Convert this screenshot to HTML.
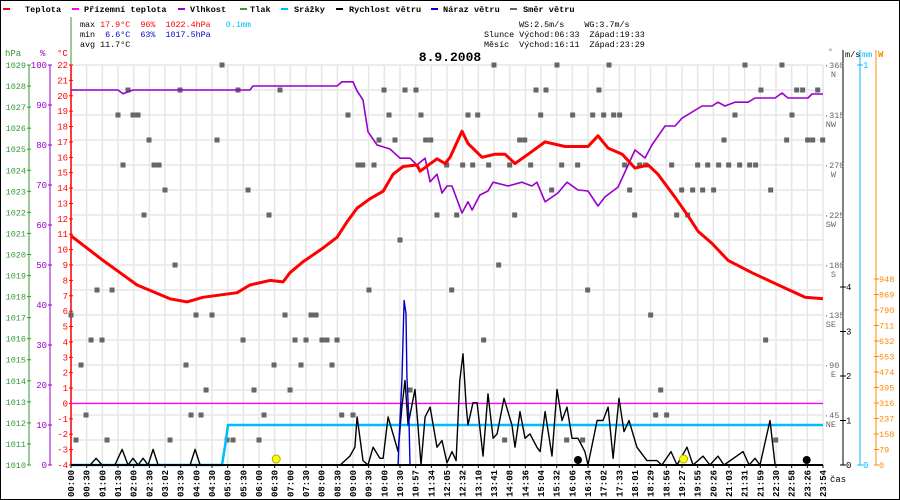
<!DOCTYPE html>
<html><head><meta charset="utf-8"><style>
html,body{margin:0;padding:0;background:#fff;}
svg{display:block;font-family:"Liberation Mono","DejaVu Sans Mono",monospace;}
text{white-space:pre;}
</style></head><body>
<svg id="chart" width="900" height="500" viewBox="0 0 900 500" xmlns="http://www.w3.org/2000/svg" xml:space="preserve">
<rect x="0.5" y="0.5" width="899" height="499" fill="#fff" stroke="#000"/>
<g id="grid"></g>
<g id="legend" font-size="8.6" font-weight="bold">
 <g><rect x="3" y="8" width="7" height="2" fill="#f00"/><text x="25" y="12">Teplota</text></g>
 <g><rect x="72" y="8" width="7" height="2" fill="#f0f"/><text x="84" y="12">Přízemní teplota</text></g>
 <g><rect x="178" y="8" width="7" height="2" fill="#90c"/><text x="190" y="12">Vlhkost</text></g>
 <g><rect x="240" y="8" width="7" height="2" fill="#393"/><text x="250" y="12">Tlak</text></g>
 <g><rect x="281" y="8" width="7" height="2" fill="#0bf"/><text x="294" y="12">Srážky</text></g>
 <g><rect x="336" y="8" width="7" height="2" fill="#000"/><text x="349" y="12">Rychlost větru</text></g>
 <g><rect x="431" y="8" width="7" height="2" fill="#00c"/><text x="443" y="12">Náraz větru</text></g>
 <g><rect x="510" y="8" width="7" height="2" fill="#666"/><text x="523" y="12">Směr větru</text></g>
</g>
<g font-size="8.4">
 <text x="80" y="27">max <tspan fill="#f00">17.9°C  96%  1022.4hPa</tspan>   <tspan fill="#0bf">0.1mm</tspan></text>
 <text x="80" y="37">min  <tspan fill="#00c">6.6°C  63%  1017.5hPa</tspan></text>
 <text x="80" y="47">avg 11.7°C</text>
 <text x="519" y="27">WS:2.5m/s    WG:3.7m/s</text>
 <text x="484" y="37">Slunce Východ:06:33  Západ:19:33</text>
 <text x="484" y="47">Měsíc  Východ:16:11  Západ:23:29</text>
</g>
<text x="450" y="61" font-size="13" font-weight="bold" text-anchor="middle">8.9.2008</text>
<g id="axes" font-size="9"></g>
<g id="marks"></g>
</svg>
<script>
// ---------- data ----------
const timeLabels = ["00:00","00:30","01:00","01:30","02:00","02:30","03:02","03:30","04:00","04:30","05:00","05:30","06:00","06:30","07:00","07:30","08:00","08:30","09:00","09:30","10:00","10:30","10:57","11:34","12:05","12:32","13:10","13:41","14:08","14:36","15:04","15:32","16:06","16:34","17:02","17:33","18:01","18:29","18:56","19:27","19:55","20:26","21:03","21:31","21:59","22:30","22:58","23:26","23:54"];
const tempTimes = [0,1.02,2.11,3.16,3.70,4.21,5.30,5.71,6.35,6.77,6.99,7.40,8.04,8.49,8.81,9.13,9.54,9.96,10.28,10.60,11.04,11.14,11.68,11.94,12.10,12.48,12.67,13.12,13.53,13.85,14.17,14.59,15.13,15.77,16.50,16.82,17.14,17.59,18.00,18.42,18.73,19.28,19.69,20.01,20.46,20.97,21.73,22.15,22.79,23.43,24];
const tempValues = [10.9,9.3,7.7,6.8,6.6,6.9,7.2,7.7,8.0,7.9,8.5,9.2,10.1,10.8,11.8,12.7,13.3,13.8,14.9,15.4,15.5,15.1,15.9,15.6,16.0,17.7,16.9,16.0,16.2,16.2,15.6,16.2,17.0,16.7,16.7,17.4,16.6,16.2,15.3,15.5,14.9,13.4,12.2,11.2,10.4,9.3,8.5,8.1,7.5,6.9,6.8];
const humTimes = [0,1.5,1.66,1.98,5.71,5.81,8.49,8.65,9.0,9.13,9.32,9.48,9.77,10.18,10.5,10.82,11.04,11.3,11.46,11.68,11.84,12.0,12.16,12.48,12.67,12.8,13.05,13.31,13.47,13.95,14.39,14.71,14.87,15.13,15.54,15.83,16.18,16.5,16.82,17.04,17.46,18.0,18.32,18.54,18.96,19.28,19.5,20.14,20.46,20.65,20.87,21.19,21.61,21.83,22.47,22.69,22.88,23.52,23.65,24];
const humValues = [93.75,93.75,92.8,93.75,93.75,94.75,94.75,95.8,95.8,93.5,91.25,83.3,80,79,76.7,76.7,75,76.7,70.8,72.7,68,69.75,69.75,63,65.8,63.75,67.5,68.5,70.7,69.75,70.7,69.75,70.7,65.8,68,70.7,68.75,68.5,64.75,67,69.5,78.75,76.75,80,84.75,84.75,86.7,89.75,89.75,90.7,89.75,90.7,90.7,91.75,91.75,93,91.75,91.75,92.75,92.75];
const windTimes = [0,0.61,0.80,0.99,1.40,1.63,1.82,1.98,2.14,2.30,2.46,2.62,2.78,3.80,3.96,4.12,8.59,8.90,9.06,9.13,9.32,9.48,9.64,9.86,9.96,10.12,10.44,10.56,10.66,10.76,10.98,11.07,11.17,11.30,11.46,11.68,11.84,12.0,12.16,12.29,12.41,12.51,12.61,12.67,12.83,12.96,13.15,13.31,13.47,13.60,13.82,14.07,14.17,14.33,14.49,14.65,14.87,14.97,15.13,15.35,15.51,15.67,15.83,15.99,16.18,16.40,16.50,16.79,16.98,17.14,17.30,17.49,17.65,17.81,18.06,18.38,18.70,18.86,19.15,19.34,19.66,19.85,20.17,20.39,20.65,20.84,21.45,21.64,21.83,21.99,22.31,22.47,24];
const windValues = [0,0,0.15,0,0,0.35,0,0.15,0,0.15,0,0.35,0,0,0.35,0,0,0.2,0.4,1.08,0.1,0,0.4,0.15,0.15,1.08,0.3,1.3,1.9,0.9,1.7,0.9,0,1.08,1.3,0.4,0.55,0.05,0.3,0.1,1.9,2.5,1.35,0.9,1.4,1.4,0.2,1.6,0.6,0.7,1.5,0.9,0.4,1.2,0.6,0.7,0.4,0.3,1.2,0.2,1.7,1.0,1.3,0.6,0.6,0.3,0,1.0,1.0,1.3,0.15,1.5,0.75,1.0,0.4,0.1,0.1,0,0.3,0,0.4,0,0.2,0,0.2,0,0.3,0,0.15,0,1.0,0,0];
const gustTimes = [10.44,10.47,10.56,10.63,10.69,10.72,10.79,10.82];
const gustValues = [0,0.6,1.9,3.7,3.4,2.0,0.9,0];
const rainTimes = [0,4.82,4.92,5.01,24];
const rainValues = [0,0,0.05,0.1,0.1];
const groundTemp = 0;
const dirObs = [
[4.82,360],[13.50,360],[15.51,360],[17.17,360],[21.51,360],[22.69,360],
[1.82,337.5],[3.48,337.5],[5.33,337.5],[6.67,337.5],[9.99,337.5],[10.66,337.5],[11.01,337.5],[14.84,337.5],[15.16,337.5],[16.85,337.5],[22.02,337.5],[23.16,337.5],[23.35,337.5],[23.83,337.5],
[1.50,315],[1.98,315],[2.14,315],[8.84,315],[10.15,315],[11.17,315],[12.67,315],[12.98,315],[14.99,315],[16.01,315],[16.65,315],[17.00,315],[17.32,315],[17.51,315],[21.19,315],[23.01,315],
[2.49,292.5],[4.66,292.5],[9.83,292.5],[10.34,292.5],[11.32,292.5],[11.48,292.5],[14.32,292.5],[14.48,292.5],[20.84,292.5],[22.84,292.5],[23.51,292.5],[23.67,292.5],[23.99,292.5],
[1.66,270],[2.65,270],[2.81,270],[9.16,270],[9.31,270],[9.67,270],[11.99,270],[12.50,270],[12.82,270],[13.33,270],[14.00,270],[14.67,270],[15.66,270],[16.17,270],[17.67,270],[18.15,270],[18.34,270],[19.17,270],[20.00,270],[20.32,270],[20.67,270],[20.99,270],[21.34,270],[21.66,270],[21.85,270],
[3.00,247.5],[5.65,247.5],[15.34,247.5],[17.83,247.5],[19.49,247.5],[19.84,247.5],[20.16,247.5],[20.51,247.5],[22.33,247.5],
[2.33,225],[6.32,225],[11.68,225],[12.31,225],[14.16,225],[17.99,225],[19.33,225],[19.68,225],
[10.50,202.5],[3.32,180],[13.65,180],
[0.83,157.5],[1.31,157.5],[9.51,157.5],[12.15,157.5],[16.49,157.5],
[0,135],[3.99,135],[4.50,135],[6.83,135],[7.66,135],[7.82,135],[18.50,135],
[0.64,112.5],[0.99,112.5],[5.49,112.5],[7.15,112.5],[7.50,112.5],[8.01,112.5],[8.17,112.5],[8.49,112.5],[13.17,112.5],[22.17,112.5],
[0.32,90],[3.67,90],[6.48,90],[7.34,90],[8.33,90],
[4.31,67.5],[5.84,67.5],[6.99,67.5],[10.82,67.5],[18.82,67.5],
[0.48,45],[3.83,45],[4.15,45],[6.16,45],[8.64,45],[9.00,45],[18.66,45],[19.01,45],
[0.16,22.5],[1.15,22.5],[3.16,22.5],[4.98,22.5],[5.17,22.5],[6.00,22.5],[13.84,22.5],[15.82,22.5],[16.33,22.5],[22.49,22.5]];
const sunTimes = [6.55,19.55];
const moonTimes = [16.18,23.48];
const pressureTicks = [1010,1011,1012,1013,1014,1015,1016,1017,1018,1019,1020,1021,1022,1023,1024,1025,1026,1027,1028,1029];
const humTicks = [0,10,20,30,40,50,60,70,80,90,100];
const tempTicks = [-4,-3,-2,-1,0,1,2,3,4,5,6,7,8,9,10,11,12,13,14,15,16,17,18,19,20,21,22];
const dirTicks = [45,90,135,180,225,270,315,360];
const dirNames = ["NE","E","SE","S","SW","W","NW","N"];
const windTicks = [0,1,2,3,4];
const wattTicks = [0,79,158,237,316,395,474,553,632,711,790,869,948];

// ---------- scales ----------
const X0=71,X1=823,Y0=465,Y1=65;
const xT=t=>X0+t/24*(X1-X0);
const yC=c=>Y0-(c+4)*(Y0-Y1)/26;
const yH=h=>Y0-h*(Y0-Y1)/100;
const yP=p=>Y0-(p-1010)*(Y0-Y1)/19;
const yD=d=>Y0-d*(Y0-Y1)/360;
const yW=v=>Y0-v*44.5;
const yR=m=>Y0-m*(Y0-Y1);
const yWatt=w=>Y0-w*(186/948);
const NS="http://www.w3.org/2000/svg";
function mk(tag,parent,attrs,txt){const e=document.createElementNS(NS,tag);for(const k in attrs)e.setAttribute(k,attrs[k]);if(txt!==undefined)e.textContent=txt;parent.appendChild(e);return e;}
const grid=document.getElementById('grid'),axes=document.getElementById('axes'),marks=document.getElementById('marks');

// grid
for(let i=0;i<timeLabels.length;i++){const x=X0+i*(X1-X0)/(timeLabels.length-1);
 const l=mk('line',grid,{x1:x,y1:Y1,x2:x,y2:Y0,stroke:'#e6e6e6','stroke-width':1.5});
 
 
 const t=mk('text',axes,{transform:`translate(${x+3},497) rotate(-90)`,'font-size':9,'font-weight':'bold'},timeLabels[i]);
 
 
 mk('line',axes,{x1:x,y1:Y0,x2:x,y2:Y0+3,stroke:'#000'});}
for(let k=0;k<=16;k++){const y=Y1+k*25;
 const l=mk('line',grid,{x1:X0,y1:y,x2:X1,y2:y,stroke:'#e6e6e6','stroke-width':1.5});
 
 }
const xl=mk('text',axes,{x:830,y:482,'font-size':9},'čas');



// left axes
mk('line',axes,{x1:29,y1:Y1,x2:29,y2:Y0,stroke:'#393'});
mk('line',axes,{x1:50,y1:Y1,x2:50,y2:Y0,stroke:'#90c'});
mk('line',axes,{x1:71,y1:Y1,x2:71,y2:Y0,stroke:'#f00','stroke-width':1.5});
mk('line',axes,{x1:71,y1:17,x2:71,y2:Y1,stroke:'#393'});
pressureTicks.forEach(p=>{const y=yP(p);mk('line',axes,{x1:27,y1:y,x2:31,y2:y,stroke:'#393'});
 const t=mk('text',axes,{x:26,y:y+3,fill:'#393','text-anchor':'end','font-size':8.5},p);
 
 });
humTicks.forEach(h=>{const y=yH(h);mk('line',axes,{x1:48,y1:y,x2:52,y2:y,stroke:'#90c'});
 const t=mk('text',axes,{x:47,y:y+3,fill:'#90c','text-anchor':'end','font-size':9},h);
 
 });
tempTicks.forEach(c=>{const y=yC(c);mk('line',axes,{x1:69,y1:y,x2:73,y2:y,stroke:'#f00'});
 const t=mk('text',axes,{x:68,y:y+3,fill:'#f00','text-anchor':'end','font-size':9},c);
 
 });
[['hPa',5,'#393'],['%',40,'#90c'],['°C',57,'#f00']].forEach(a=>{const t=mk('text',axes,{x:a[1],y:56,fill:a[2],'font-size':9},a[0]);
 
 });

// right axes
mk('line',axes,{x1:843,y1:50,x2:843,y2:Y0,stroke:'#000'});
mk('line',axes,{x1:860,y1:50,x2:860,y2:Y0,stroke:'#0bf'});
mk('line',axes,{x1:876,y1:50,x2:876,y2:Y0,stroke:'#f80'});
dirTicks.forEach((d,i)=>{const y=yD(d);
 const t=mk('text',axes,{x:824,y:y+3,fill:'#666','font-size':8.5},'·'+d);
 
 
 mk('text',axes,{x:836,y:y+12,fill:'#666','font-size':8.5,'text-anchor':'end'},dirNames[i]);});
mk('text',axes,{x:828,y:54,fill:'#666','font-size':8},'°');
windTicks.forEach(v=>{const y=yW(v);mk('line',axes,{x1:840,y1:y,x2:846,y2:y,stroke:'#000'});
 const t=mk('text',axes,{x:846,y:y+3,'font-size':9},v);
 
 });
mk('text',axes,{x:845,y:57,'font-size':8.5},'m/s');
[0,1].forEach(m=>{const y=yR(m);mk('line',axes,{x1:857,y1:y,x2:863,y2:y,stroke:'#0bf'});
 const t=mk('text',axes,{x:863,y:y+3,fill:'#0bf','font-size':9},m);
 
 });
mk('text',axes,{x:862,y:57,fill:'#0bf','font-size':8.5},'mm');
wattTicks.forEach(w=>{const y=yWatt(w);mk('line',axes,{x1:874,y1:y,x2:879,y2:y,stroke:'#f80'});
 const t=mk('text',axes,{x:879,y:y+3,fill:'#f80','font-size':8.5},w);
 
 });
mk('text',axes,{x:878,y:57,fill:'#f80','font-size':9,'font-weight':'bold'},'W');

// series
function line(ts,vs,yf,attrs,name){const d=ts.map((t,i)=>(i?'L':'M')+xT(t).toFixed(1)+','+yf(vs[i]).toFixed(1)).join('');
 const p=mk('path',marks,Object.assign({d:d,fill:'none','stroke-linejoin':'round'},attrs));
 
 }
dirObs.forEach(o=>{const r=mk('rect',marks,{x:xT(o[0])-2.5,y:yD(o[1])-2.5,width:5,height:5,fill:'#666'});
 
 });
const g=mk('line',marks,{x1:X0,y1:yC(groundTemp),x2:X1,y2:yC(groundTemp),stroke:'#f0f','stroke-width':1.3});


line(rainTimes,rainValues,yR,{stroke:'#0bf','stroke-width':2.5},'rain-line');
line(humTimes,humValues,yH,{stroke:'#90c','stroke-width':1.6},'humidity-line');
line(windTimes,windValues,yW,{stroke:'#000','stroke-width':1.4},'wind-speed-line');
line(gustTimes,gustValues,yW,{stroke:'#00c','stroke-width':1.4},'wind-gust-line');
line(tempTimes,tempValues,yC,{stroke:'#f00','stroke-width':3},'temperature-line');
const bl=mk('line',marks,{x1:X0,y1:Y0,x2:X1,y2:Y0,stroke:'#000','stroke-width':2});


sunTimes.forEach(t=>{const c=mk('circle',marks,{cx:xT(t),cy:459,r:4,fill:'#ff0',stroke:'#aa0'});
 
 });
moonTimes.forEach(t=>{const c=mk('circle',marks,{cx:xT(t),cy:460,r:4,fill:'#000'});
 
 });
</script>
</body></html>
